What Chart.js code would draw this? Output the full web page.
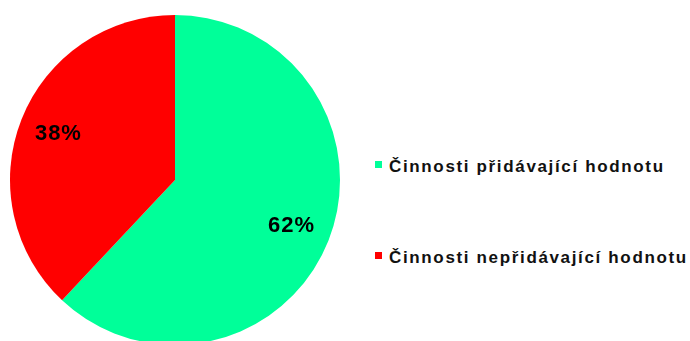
<!DOCTYPE html>
<html lang="cs">
<head>
<meta charset="utf-8">
<script src="https://cdn.jsdelivr.net/npm/chart.js@4/dist/chart.umd.min.js"></script>
<style>
    html, body { margin: 0; padding: 0; background: #fff; }
    body { width: 690px; height: 341px; overflow: hidden; position: relative; font-family: Arial, 'Liberation Sans', sans-serif; }
    #graf { position: absolute; left: 0; top: 0; width: 350px; height: 360px; }
    #legenda { position: absolute; left: 375px; top: 0; }
    .polozka { position: absolute; left: 0; white-space: nowrap; font-weight: bold; font-size: 17px; letter-spacing: 1.65px; color: #111; line-height: 20px; }
    .polozka .box { position: absolute; left: 0; top: 4px; width: 7px; height: 7px; }
    .polozka .txt { position: absolute; left: 14px; top: 0; }
</style>
</head>
<body>
<div id="graf"><canvas id="chartPodil"></canvas></div>
<div id="legenda"></div>
<script>
const kategorie = ['Činnosti přidávající hodnotu', 'Činnosti nepřidávající hodnotu'];
const hodnoty = [62, 38];
const barvy = ['#00ff99', '#ff0000'];

// popisky procent uvnitř výsečí
const popiskyPlugin = {
    id: 'popisky',
    afterDatasetsDraw(chart) {
        const ctx = chart.ctx;
        const meta = chart.getDatasetMeta(0);
        ctx.save();
        ctx.font = 'bold 22px Arial, "Liberation Sans", sans-serif';
        ctx.letterSpacing = '1px';
        ctx.fillStyle = '#000';
        ctx.textAlign = 'center';
        ctx.textBaseline = 'middle';
        meta.data.forEach((arc, i) => {
            const p = arc.getProps(['x', 'y', 'startAngle', 'endAngle', 'outerRadius'], true);
            const uhel = (p.startAngle + p.endAngle) / 2;
            const r = p.outerRadius * 0.76;
            ctx.fillText(hodnoty[i] + '%', p.x + Math.cos(uhel) * r, p.y + Math.sin(uhel) * r);
        });
        ctx.restore();
    }
};

new Chart(document.getElementById('chartPodil'), {
    type: 'pie',
    data: {
        labels: kategorie,
        datasets: [{
            data: hodnoty,
            backgroundColor: barvy,
            borderWidth: 0
        }]
    },
    options: {
        responsive: true,
        maintainAspectRatio: false,
        animation: false,
        layout: { padding: { left: 10, right: 10, top: 15, bottom: 15 } },
        plugins: {
            legend: { display: false },
            tooltip: { enabled: false }
        }
    },
    plugins: [popiskyPlugin]
});

// legenda vpravo
const legenda = document.getElementById('legenda');
const radky = [157, 248];
kategorie.forEach((nazev, i) => {
    const el = document.createElement('div');
    el.className = 'polozka';
    el.style.top = radky[i] + 'px';
    el.innerHTML = '<span class="box" style="background:' + barvy[i] + '"></span><span class="txt"></span>';
    el.querySelector('.txt').textContent = nazev;
    legenda.appendChild(el);
});
</script>
</body>
</html>
